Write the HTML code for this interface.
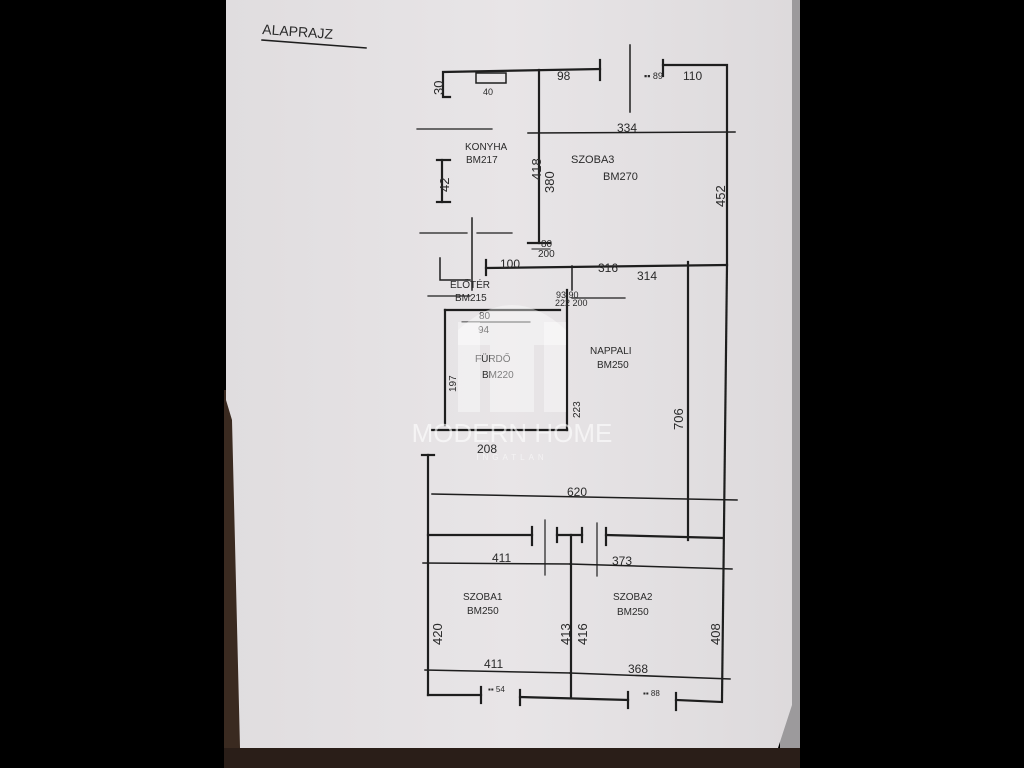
<!DOCTYPE html>
<html><head><meta charset="utf-8"><style>
html,body{margin:0;padding:0;background:#000;width:1024px;height:768px;overflow:hidden}
svg{display:block}
text{font-family:"Liberation Sans",sans-serif;fill:#2a2a2a}
</style></head><body>
<svg width="1024" height="768" viewBox="0 0 1024 768" xmlns="http://www.w3.org/2000/svg">
<defs>
<linearGradient id="pg" x1="0" y1="0" x2="1" y2="0">
<stop offset="0" stop-color="#e0dddf"/><stop offset="0.5" stop-color="#e8e5e7"/><stop offset="1" stop-color="#dddadc"/>
</linearGradient>
</defs>
<rect x="0" y="0" width="1024" height="768" fill="#000"/>
<rect x="224" y="390" width="20" height="378" fill="#3a2a20"/>
<rect x="780" y="0" width="20" height="768" fill="#9c9a9c"/>
<rect x="224" y="748" width="576" height="20" fill="#2a1e18"/>
<polygon points="226,0 792,0 792,705 778,748 240,748 232,420 226,400" fill="url(#pg)"/>

<g stroke="#1e1e1e" stroke-width="2.2" fill="none" stroke-linecap="square">
<line x1="262" y1="40" x2="366" y2="48" stroke-width="1.5"/>
<polyline points="450,97 443,97 443,72 600,69"/>
<line x1="600" y1="60" x2="600" y2="80"/>
<line x1="630" y1="45" x2="630" y2="112" stroke-width="1.5"/>
<line x1="663" y1="60" x2="663" y2="76"/>
<polyline points="663,65 727,65 727,265"/>
<rect x="476" y="73" width="30" height="10" stroke-width="1.5"/>
<line x1="539" y1="70" x2="539" y2="243"/>
<line x1="528" y1="243" x2="550" y2="243"/>
<line x1="528" y1="133" x2="735" y2="132" stroke-width="1.5"/>
<line x1="442" y1="160" x2="442" y2="202"/>
<line x1="437" y1="160" x2="450" y2="160"/><line x1="437" y1="202" x2="450" y2="202"/>
<line x1="417" y1="129" x2="492" y2="129" stroke-width="1.2"/>
<line x1="420" y1="233" x2="467" y2="233" stroke-width="1.2"/>
<line x1="477" y1="233" x2="512" y2="233" stroke-width="1.2"/>
<line x1="472" y1="218" x2="472" y2="290" stroke-width="1.5"/>
<line x1="532" y1="249" x2="550" y2="249" stroke-width="1"/>
<line x1="486" y1="268" x2="726" y2="265"/>
<line x1="486" y1="260" x2="486" y2="275"/>
<polyline points="440,258 440,280 470,280" stroke-width="1.5"/>
<line x1="688" y1="262" x2="688" y2="540"/>
<line x1="727" y1="265" x2="722" y2="700"/>
<line x1="572" y1="298" x2="625" y2="298" stroke-width="1.2"/>
<line x1="428" y1="296" x2="470" y2="296" stroke-width="1.2"/>
<line x1="445" y1="310" x2="445" y2="425"/>
<line x1="445" y1="310" x2="560" y2="310"/>
<line x1="567" y1="290" x2="567" y2="430"/>
<line x1="432" y1="430" x2="567" y2="430"/>
<line x1="462" y1="322" x2="530" y2="322" stroke-width="1"/>
<line x1="572" y1="266" x2="572" y2="290" stroke-width="1.5"/>
<line x1="428" y1="455" x2="428" y2="695"/>
<line x1="422" y1="455" x2="434" y2="455"/>
<line x1="432" y1="494" x2="737" y2="500" stroke-width="1.5"/>
<line x1="428" y1="535" x2="532" y2="535"/>
<line x1="532" y1="527" x2="532" y2="545"/>
<line x1="545" y1="520" x2="545" y2="575" stroke-width="1.2"/>
<line x1="557" y1="535" x2="582" y2="535"/><line x1="557" y1="528" x2="557" y2="542"/><line x1="582" y1="528" x2="582" y2="542"/>
<line x1="597" y1="523" x2="597" y2="576" stroke-width="1.2"/>
<line x1="606" y1="535" x2="722" y2="538"/>
<line x1="606" y1="528" x2="606" y2="545"/>
<line x1="571" y1="535" x2="571" y2="698"/>
<line x1="423" y1="563" x2="570" y2="564" stroke-width="1.5"/>
<line x1="570" y1="564" x2="732" y2="569" stroke-width="1.5"/>
<line x1="425" y1="670" x2="570" y2="673" stroke-width="1.5"/>
<line x1="570" y1="673" x2="730" y2="679" stroke-width="1.5"/>
<line x1="428" y1="695" x2="481" y2="695"/>
<line x1="481" y1="687" x2="481" y2="703"/>
<line x1="520" y1="697" x2="628" y2="700"/>
<line x1="520" y1="690" x2="520" y2="705"/><line x1="628" y1="692" x2="628" y2="708"/>
<line x1="676" y1="700" x2="722" y2="702"/><line x1="676" y1="693" x2="676" y2="710"/>
</g>

<g font-size="12">
<text x="262" y="34" font-size="14" transform="rotate(4 262 34)">ALAPRAJZ</text>
<text x="557" y="80">98</text>
<text x="683" y="80">110</text>
<text x="483" y="95" font-size="9">40</text>
<text x="644" y="79" font-size="9">▪▪ 89</text>
<text x="617" y="132">334</text>
<text x="598" y="272">316</text>
<text x="637" y="280">314</text>
<text x="500" y="268">100</text>
<text x="541" y="247" font-size="10">80</text>
<text x="538" y="257" font-size="10">200</text>
<text x="465" y="150" font-size="10">KONYHA</text>
<text x="466" y="163" font-size="10">BM217</text>
<text x="571" y="163" font-size="11">SZOBA3</text>
<text x="603" y="180" font-size="11">BM270</text>
<text x="450" y="288" font-size="10">ELŐTÉR</text>
<text x="455" y="301" font-size="10">BM215</text>
<text x="556" y="298" font-size="9">93 90</text>
<text x="555" y="306" font-size="9">222 200</text>
<text x="590" y="354" font-size="10">NAPPALI</text>
<text x="597" y="368" font-size="10">BM250</text>
<text x="479" y="319" font-size="10">80</text>
<text x="478" y="333" font-size="10">94</text>
<text x="475" y="362" font-size="10">FÜRDŐ</text>
<text x="482" y="378" font-size="10">BM220</text>
<text x="477" y="453">208</text>
<text x="567" y="496">620</text>
<text x="492" y="562">411</text>
<text x="612" y="565">373</text>
<text x="463" y="600" font-size="10">SZOBA1</text>
<text x="467" y="614" font-size="10">BM250</text>
<text x="613" y="600" font-size="10">SZOBA2</text>
<text x="617" y="615" font-size="10">BM250</text>
<text x="484" y="668">411</text>
<text x="628" y="673">368</text>
<text x="488" y="692" font-size="8">▪▪ 54</text>
<text x="643" y="696" font-size="8">▪▪ 88</text>
</g>
<g font-size="13">
<text transform="translate(443,95) rotate(-90)">30</text>
<text transform="translate(449,192) rotate(-90)">42</text>
<text transform="translate(541,180) rotate(-90)">418</text>
<text transform="translate(554,193) rotate(-90)">380</text>
<text transform="translate(725,207) rotate(-90)">452</text>
<text transform="translate(683,430) rotate(-90)">706</text>
<text transform="translate(442,645) rotate(-90)">420</text>
<text transform="translate(570,645) rotate(-90)">413</text>
<text transform="translate(587,645) rotate(-90)">416</text>
<text transform="translate(720,645) rotate(-90)">408</text>
<text transform="translate(456,392) rotate(-90)" font-size="10">197</text>
<text transform="translate(580,418) rotate(-90)" font-size="10">223</text>
</g>

<g fill="#ffffff" fill-opacity="0.4">
<rect x="458" y="322" width="22" height="90"/>
<rect x="544" y="322" width="22" height="90"/>
<rect x="490" y="345" width="44" height="67"/>
<path d="M458,330 Q512,280 566,330 L566,345 L458,345 Z"/>
</g>
<text x="512" y="442" text-anchor="middle" font-family="Liberation Serif,serif" font-size="26" style="fill:#ffffff;fill-opacity:0.6">MODERN HOME</text>
<text x="512" y="460" text-anchor="middle" font-size="8" letter-spacing="4" style="fill:#ffffff;fill-opacity:0.55">INGATLAN</text>
</svg>
</body></html>
